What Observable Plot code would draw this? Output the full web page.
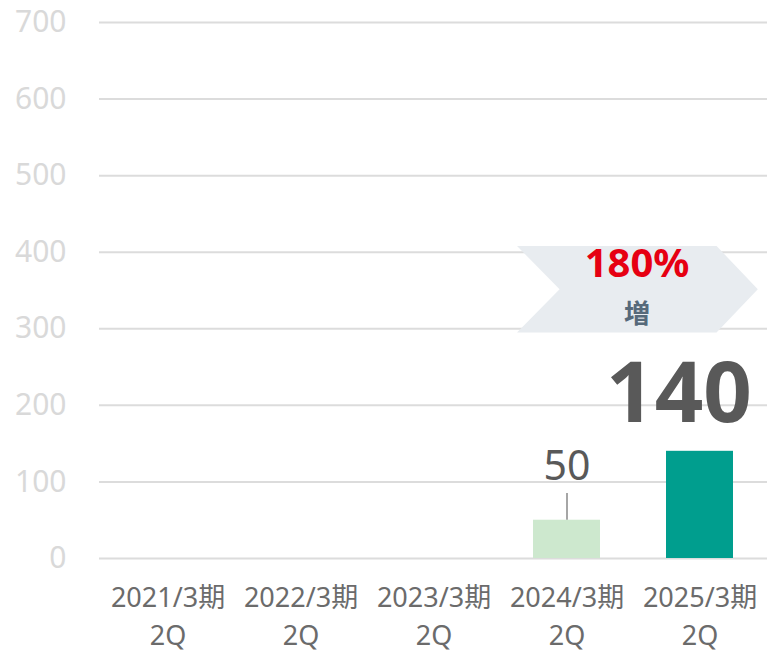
<!DOCTYPE html>
<html>
<head>
<meta charset="utf-8">
<script src="https://cdn.jsdelivr.net/npm/d3@7"></script>
<script src="https://cdn.jsdelivr.net/npm/@observablehq/plot@0.6"></script>
<style>
  html, body { margin: 0; padding: 0; background: #ffffff; }
  #chart svg { display: block; overflow: visible; }
</style>
</head>
<body>
<div id="chart"></div>
<script>
// ---- data ----
const categories = ["2021/3期\n2Q", "2022/3期\n2Q", "2023/3期\n2Q", "2024/3期\n2Q", "2025/3期\n2Q"];
const values = [null, null, null, 50, 140];
const barColors = ["#cde8ce", "#cde8ce", "#cde8ce", "#cde8ce", "#009e8e"];
const yTicks = [0, 100, 200, 300, 400, 500, 600, 700];
const growthPct = "180%";
const growthWord = "増";

const bars = categories
  .map((c, i) => ({cat: c, value: values[i], color: barColors[i]}))
  .filter(d => d.value != null);

const font = "'Noto Sans', 'Noto Sans CJK JP', sans-serif";

// chevron annotation between the last two periods (y in data units)
const chevronMark = (index, scales) => {
  const x = scales.x, y = scales.y;
  const step = x(categories[4]) - x(categories[3]);
  const c3 = x(categories[3]) + step * 0.25;
  const c4 = x(categories[4]) + step * 0.25;
  const yTop = y(407.5), yMid = y(351), yBot = y(294.5);
  const pts = [
    [c3 - 0.37 * step, yTop],
    [c4 + 0.13 * step, yTop],
    [c4 + 0.44 * step, yMid],
    [c4 + 0.13 * step, yBot],
    [c3 - 0.37 * step, yBot],
    [c3 - 0.05 * step, yMid]
  ];
  const g = d3.create("svg:polygon")
    .attr("points", pts.map(p => p.join(",")).join(" "))
    .attr("fill", "#e8ecf0");
  return g.node();
};

const chart = Plot.plot({
  width: 767,
  height: 654,
  marginLeft: 99,
  marginRight: 0,
  marginTop: 22,
  marginBottom: 96,
  style: {fontFamily: font, background: "#ffffff"},
  x: {domain: categories, paddingInner: 0.5, paddingOuter: 0.25, axis: null, label: null},
  y: {domain: [0, 700], axis: null, label: null},
  marks: [
    Plot.gridY(yTicks, {stroke: "#dcdcdc", strokeOpacity: 1, strokeWidth: 2}),
    Plot.axisY(yTicks, {tickSize: 0, tickPadding: 33, fontSize: 30, color: "#d9d9d9", label: null}),
    Plot.axisX({tickSize: 0, tickPadding: 22, fontSize: 27, lineHeight: 1.4, color: "#6b6b6b", label: null}),
    chevronMark,
    Plot.text([growthPct], {x: () => categories[3], y: () => 367, dx: 70, text: d => d, lineAnchor: "bottom", fontSize: 40, fontWeight: "bold", fill: "#e60012"}),
    Plot.text([growthWord], {x: () => categories[3], y: () => 308, dx: 70, text: d => d, lineAnchor: "bottom", fontSize: 26, fontWeight: "bold", fill: "#56697a"}),
    Plot.barY(bars, {x: "cat", y: "value", fill: "color"}),
    Plot.ruleX([bars[0]], {x: "cat", y1: "value", y2: () => 85, stroke: "#a6a6a6", strokeWidth: 2}),
    Plot.text([bars[0]], {x: "cat", y: "value", text: d => String(d.value), lineAnchor: "bottom", dy: -40, fontSize: 41, fill: "#595959"}),
    Plot.text([bars[1]], {x: "cat", y: "value", text: d => String(d.value), lineAnchor: "bottom", dy: -29, dx: -21, fontSize: 85, fontWeight: "bold", fill: "#595959"})
  ]
});

document.getElementById("chart").appendChild(chart);
</script>
</body>
</html>
